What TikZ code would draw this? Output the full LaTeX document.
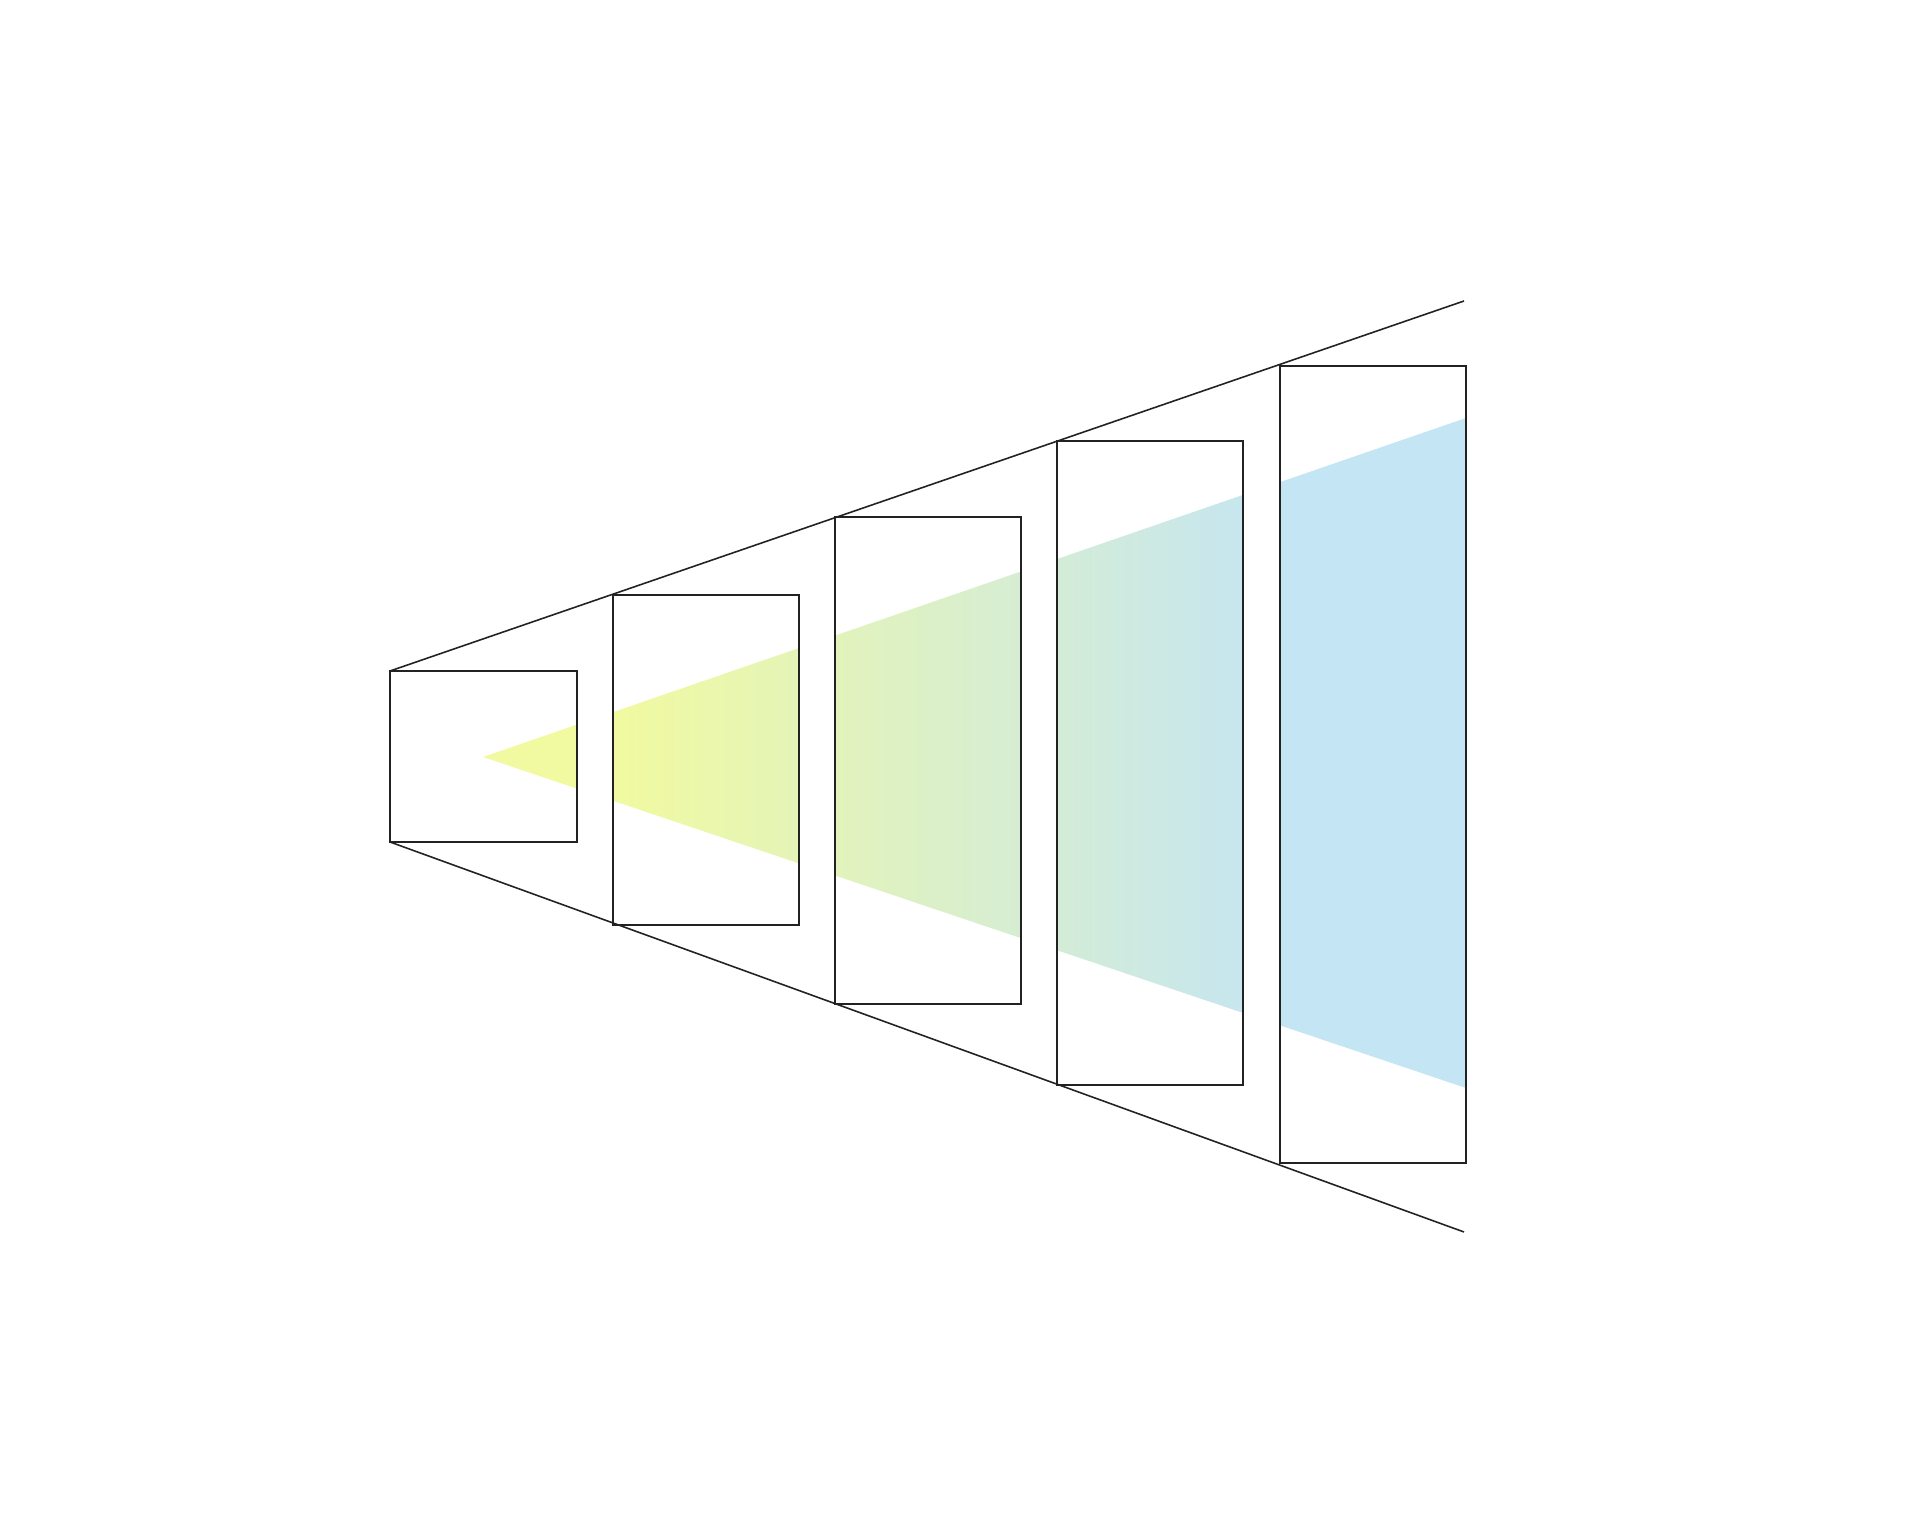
\documentclass[tikz,border=0pt]{standalone}
\usepackage{tikz}
\definecolor{fanyellow}{HTML}{F1FAA0}
\definecolor{fanblue}{HTML}{C4E5F3}
\definecolor{inkline}{HTML}{222222}
\begin{document}
\begin{tikzpicture}[x=0.01cm,y=-0.01cm,
  framebox/.style={draw=inkline,line width=0.45pt},
  fanline/.style={draw=inkline,line width=0.45pt}]
\useasboundingbox (0,0) rectangle (1920,1534);
% box corners
\coordinate (b1nw) at (390,671);  \coordinate (b1se) at (577,842);
\coordinate (b2nw) at (613,595);  \coordinate (b2se) at (799,925);
\coordinate (b3nw) at (835,517);  \coordinate (b3se) at (1021,1004);
\coordinate (b4nw) at (1057,441); \coordinate (b4se) at (1243,1085);
\coordinate (b5nw) at (1280,366); \coordinate (b5se) at (1466,1163);
\coordinate (b1sw) at (390,842);
\coordinate (topend) at (1464,301);
\coordinate (botend) at (1464,1232);
\coordinate (apex) at (483,757);
\coordinate (tritop) at (1466,418);
\coordinate (tribot) at (1466,1088);
% coloured beam, visible only inside the frames
\begin{scope}
  \clip (apex) -- (tritop) -- (tribot) -- cycle;
  \fill[fanyellow] (b1nw) rectangle (b1se);
  \fill[fanblue] (b5nw) rectangle (b5se);
  \begin{scope}
    \clip (b2nw) rectangle (b2se) (b3nw) rectangle (b3se) (b4nw) rectangle (b4se);
    \shade[left color=fanyellow,right color=fanblue] (613,300) rectangle (1280,1200);
  \end{scope}
\end{scope}
% fan lines
\draw[fanline] (b1nw) -- (topend);
\draw[fanline] (b1sw) -- (botend);
% frames
\draw[framebox] (b1nw) rectangle (b1se);
\draw[framebox] (b2nw) rectangle (b2se);
\draw[framebox] (b3nw) rectangle (b3se);
\draw[framebox] (b4nw) rectangle (b4se);
\draw[framebox] (b5nw) rectangle (b5se);
\end{tikzpicture}
\end{document}
